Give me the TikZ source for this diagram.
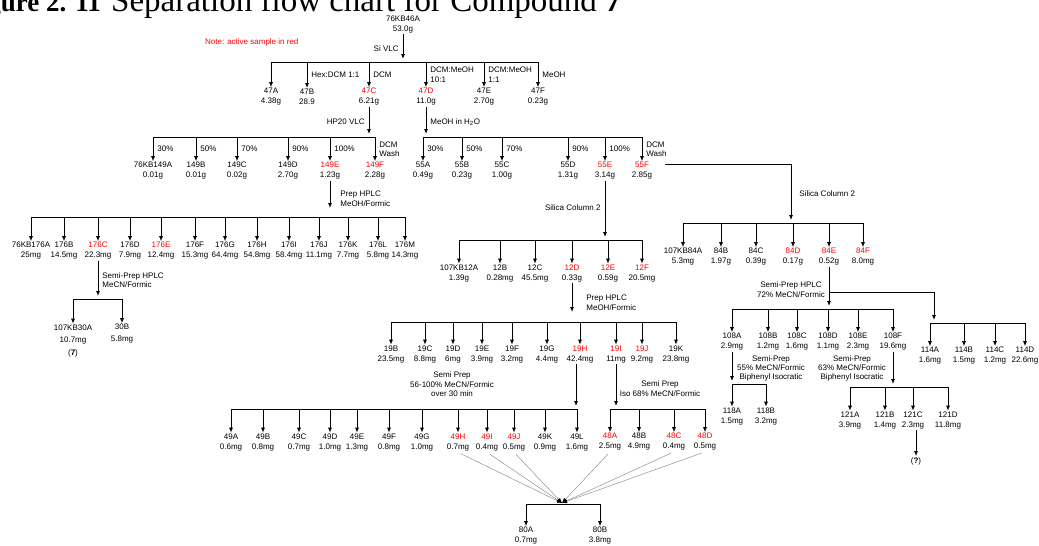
\documentclass[tikz,border=0pt]{standalone}
\usepackage{fontspec}
\setmainfont{Liberation Sans}
\newfontfamily\titlefont{Liberation Serif}
\usetikzlibrary{arrows.meta}

\begin{document}
\begin{tikzpicture}[x=1pt, y=-1pt,
    sample/.style={align=center, inner sep=1pt, font=\fontsize{8}{10}\selectfont},
    cond/.style={align=left, inner xsep=4pt, inner ysep=1pt, font=\fontsize{8}{9.5}\selectfont},
    bar/.style={line width=0.8pt},
    drop/.style={line width=0.8pt, -{Latex[length=5pt, width=4pt]}},
    feed/.style={drop, shorten >=3pt},
    pool/.style={gray, line width=0.4pt, -{Latex[length=5pt, width=4pt, color=black]}, shorten <=3pt}]
    \useasboundingbox (0,0) rectangle (1039,546);
    \clip (0,0) rectangle (1039,546);

    \node [anchor=base east, inner sep=0, font=\titlefont\bfseries\fontsize{27}{27}\selectfont] (titlenum) at (101,11) {Figure 2. 11};
    \node [anchor=base west, inner sep=0, font=\titlefont\fontsize{33}{33}\selectfont] (title) at (111,11) {Separation flow chart for Compound \textbf{7}};
    \node [cond, anchor=west, text=red] (note) at (201,42) {Note: active sample in red};

    % Si VLC
    \node [sample] (s76KB46A) at (403,24.5) {76KB46A\\53.0g};
    \coordinate (b47) at (403,62);
    \foreach \x/\id/\amt/\col/\lab in {271/47A/4.38g/black/{}, 307/47B/28.9/black/{Hex:DCM 1:1}, 369/47C/6.21g/red/DCM, 426/47D/11.0g/red/{DCM:MeOH\\10:1}, 484/47E/2.70g/black/{DCM:MeOH\\1:1}, 538/47F/0.23g/black/MeOH} {
        \node [sample] (s\id) at (\x,97) {\textcolor{\col}{\id}\\\amt};
        \draw [drop] (s\id |- b47) -- node [cond, right] (l\id) {\lab} (s\id);
    }
    \draw [bar] (s47A |- b47) -- (s47F |- b47);
    \draw [feed] (s76KB46A) -- node [cond, left] (lsivlc) {Si VLC} (b47);

    % HP20 VLC
    \coordinate (b149) at (369,137);
    \foreach \x/\id/\amt/\col/\lab in {153/76KB149A/0.01g/black/30\%, 196/149B/0.01g/black/50\%, 237/149C/0.02g/black/70\%, 288/149D/2.70g/black/90\%, 330/149E/1.23g/red/100\%, 375/149F/2.28g/red/{DCM\\Wash}} {
        \node [sample] (s\id) at (\x,171) {\textcolor{\col}{\id}\\\amt};
        \draw [drop] (s\id |- b149) -- node [cond, right] (l\id) {\lab} (s\id);
    }
    \draw [bar] (s76KB149A |- b149) -- (s149F |- b149);
    \draw [feed] (s47C) -- node [cond, left] (lhp20) {HP20 VLC} (s47C |- b149);

    % MeOH in water
    \coordinate (b55) at (426,137);
    \foreach \x/\id/\amt/\col/\lab in {423/55A/0.49g/black/30\%, 462/55B/0.23g/black/50\%, 502/55C/1.00g/black/70\%, 568/55D/1.31g/black/90\%, 605/55E/3.14g/red/100\%, 642/55F/2.85g/red/{DCM\\Wash}} {
        \node [sample] (s\id) at (\x,171) {\textcolor{\col}{\id}\\\amt};
        \draw [drop] (s\id |- b55) -- node [cond, right] (l\id) {\lab} (s\id);
    }
    \draw [bar] (s55A |- b55) -- (s55F |- b55);
    \draw [feed] (s47D) -- node [cond, right] (lmeoh) {MeOH in H\textsubscript{2}O} (s47D |- b55);

    % Prep HPLC 149E
    \coordinate (b176) at (330,217);
    \foreach \x/\id/\amt/\col in {31/76KB176A/25mg/black, 64/176B/14.5mg/black, 98/176C/22.3mg/red, 130/176D/7.9mg/black, 161/176E/12.4mg/red, 195/176F/15.3mg/black, 225/176G/64.4mg/black, 257/176H/54.8mg/black, 289/176I/58.4mg/black, 319/176J/11.1mg/black, 348/176K/7.7mg/black, 378/176L/5.8mg/black, 405/176M/14.3mg/black} {
        \node [sample] (s\id) at (\x,251) {\textcolor{\col}{\id}\\\amt};
        \draw [drop] (s\id |- b176) -- (s\id);
    }
    \draw [bar] (s76KB176A |- b176) -- (s176M |- b176);
    \draw [feed, shorten >=9pt] (s149E) -- node [cond, right, xshift=6pt] (lprep1) {Prep HPLC\\MeOH/Formic} (s149E |- b176);

    % Semi-Prep 176C
    \coordinate (b30) at (98,299);
    \node [sample, font=\fontsize{8}{12.5}\selectfont] (s107KB30A) at (73,341) {107KB30A\\10.7mg\\(\textbf{7})};
    \node [sample, font=\fontsize{8}{12}\selectfont] (s30B) at (122,334) {30B\\5.8mg};
    \draw [bar] (s107KB30A |- b30) -- (s30B |- b30);
    \draw [drop] (s107KB30A |- b30) -- (s107KB30A);
    \draw [drop] (s30B |- b30) -- (s30B);
    \draw [feed] (s176C) -- node [cond, right] (lsemi1) {Semi-Prep HPLC\\MeCN/Formic} (s176C |- b30);

    % Silica Column 2, 55E
    \coordinate (b12) at (605,240);
    \foreach \x/\id/\amt/\col in {459/107KB12A/1.39g/black, 500/12B/0.28mg/black, 535/12C/45.5mg/black, 572/12D/0.33g/red, 608/12E/0.59g/red, 642/12F/20.5mg/red} {
        \node [sample] (s\id) at (\x,273.5) {\textcolor{\col}{\id}\\\amt};
        \draw [drop] (s\id |- b12) -- (s\id);
    }
    \draw [bar] (s107KB12A |- b12) -- (s12F |- b12);
    \draw [feed] (s55E) -- node [cond, left, pos=0.45] (lsil1) {Silica Column 2} (s55E |- b12);

    % Silica Column 2, 55F
    \coordinate (b84) at (791,223);
    \foreach \x/\id/\amt/\col in {683/107KB84A/5.3mg/black, 721/84B/1.97g/black, 756/84C/0.39g/black, 793/84D/0.17g/red, 829/84E/0.52g/red, 863/84F/8.0mg/red} {
        \node [sample] (s\id) at (\x,257) {\textcolor{\col}{\id}\\\amt};
        \draw [drop] (s\id |- b84) -- (s\id);
    }
    \draw [bar] (s107KB84A |- b84) -- (s84F |- b84);
    \draw [feed] (s55F.east) ++(12,-7) -| node [cond, right, pos=0.75, xshift=4pt] (lsil2) {Silica Column 2} (b84);

    % Prep HPLC 12D
    \coordinate (b19) at (572,322);
    \foreach \x/\id/\amt/\col in {391/19B/23.5mg/black, 425/19C/8.8mg/black, 453/19D/6mg/black, 482/19E/3.9mg/black, 512/19F/3.2mg/black, 547/19G/4.4mg/black, 580/19H/42.4mg/red, 616/19I/11mg/red, 642/19J/9.2mg/red, 676/19K/23.8mg/black} {
        \node [sample] (s\id) at (\x,354.5) {\textcolor{\col}{\id}\\\amt};
        \draw [drop] (s\id |- b19) -- (s\id);
    }
    \draw [bar] (s19B |- b19) -- (s19K |- b19);
    \draw [feed, shorten >=10pt] (s12D) -- node [cond, right, xshift=10pt] (lprep2) {Prep HPLC\\MeOH/Formic} (s12D |- b19);

    \node [sample, font=\fontsize{8}{9.5}\selectfont] (lsemi2) at (452,384.5) {Semi Prep\\56-100\% MeCN/Formic\\over 30 min};
    \node [sample, font=\fontsize{8}{9.5}\selectfont] (lsemi3) at (660,388.5) {Semi Prep\\Iso 68\% MeCN/Formic};

    % Semi Prep 19H
    \coordinate (b49) at (576,409);
    \foreach \x/\id/\amt/\col in {231/49A/0.6mg/black, 263/49B/0.8mg/black, 299/49C/0.7mg/black, 330/49D/1.0mg/black, 357/49E/1.3mg/black, 389/49F/0.8mg/black, 422/49G/1.0mg/black, 458/49H/0.7mg/red, 487/49I/0.4mg/red, 514/49J/0.5mg/red, 545/49K/0.9mg/black, 577/49L/1.6mg/black} {
        \node [sample] (s\id) at (\x,442.5) {\textcolor{\col}{\id}\\\amt};
        \draw [drop] (s\id |- b49) -- (s\id);
    }
    \draw [bar] (s49A |- b49) -- (s49L |- b49);
    \draw [feed] ([xshift=-4pt]s19H.south) -- ([xshift=-4pt]s19H.south |- b49);

    % Semi Prep 19I
    \coordinate (b48) at (616,409);
    \foreach \x/\id/\amt/\col in {610/48A/2.5mg/red, 639/48B/4.9mg/black, 674/48C/0.4mg/red, 705/48D/0.5mg/red} {
        \node [sample] (s\id) at (\x,442) {\textcolor{\col}{\id}\\\amt};
        \draw [drop] (s\id |- b48) -- (s\id);
    }
    \draw [bar] (s48A |- b48) -- (s48D |- b48);
    \draw [feed] (s19I) -- (s19I |- b48);

    % pooled actives
    \coordinate (b80) at (562,504);
    \foreach \x/\id/\amt in {526/80A/0.7mg, 600/80B/3.8mg} {
        \node [sample] (s\id) at (\x,536) {\id\\\amt};
        \draw [drop] (s\id |- b80) -- (s\id);
    }
    \draw [bar] (s80A |- b80) -- (s80B |- b80);
    \foreach \id in {49H,49I,49J,48A,48C,48D}
        \draw [pool] (s\id.south) -- ([yshift=1pt]b80);

    % Semi-Prep HPLC 84E
    \coordinate (b108) at (829,309);
    \foreach \x/\id/\amt in {732/108A/2.9mg, 768/108B/1.2mg, 797/108C/1.6mg, 828/108D/1.1mg, 858/108E/2.3mg, 893/108F/19.6mg} {
        \node [sample] (s\id) at (\x,342) {\id\\\amt};
        \draw [drop] (s\id |- b108) -- (s\id);
    }
    \draw [bar] (s108A |- b108) -- (s108F |- b108);
    \draw [feed] (s84E) -- (s84E |- b108);
    \node [sample, anchor=east] (lsemi4) at (826,289.5) {Semi-Prep HPLC\\72\% MeCN/Formic};

    \coordinate (b114) at (934,323);
    \coordinate (j114) at (829,292);
    \foreach \x/\id/\amt in {930/114A/1.6mg, 964/114B/1.5mg, 995/114C/1.2mg, 1025/114D/22.6mg} {
        \node [sample] (s\id) at (\x,356) {\id\\\amt};
        \draw [drop] (s\id |- b114) -- (s\id);
    }
    \draw [bar] (s114A |- b114) -- (s114D |- b114);
    \draw [feed] (s84E |- j114) -| (b114);

    % Semi-Prep 108A
    \coordinate (b118) at (733,384);
    \foreach \x/\id/\amt in {732/118A/1.5mg, 766/118B/3.2mg} {
        \node [sample] (s\id) at (\x,416.5) {\id\\\amt};
        \draw [drop] (s\id |- b118) -- (s\id);
    }
    \draw [bar] (s118A |- b118) -- (s118B |- b118);
    \draw [feed] (s108A) -- (s108A |- b118);
    \node [sample, font=\fontsize{8}{9}\selectfont] (lsemi5) at (771,368) {Semi-Prep\\55\% MeCN/Formic\\Biphenyl Isocratic};

    % Semi-Prep 108F
    \coordinate (b121) at (893,387);
    \foreach \x/\id/\amt in {850/121A/3.9mg, 885/121B/1.4mg, 913/121C/2.3mg, 948/121D/11.8mg} {
        \node [sample] (s\id) at (\x,420.5) {\id\\\amt};
        \draw [drop] (s\id |- b121) -- (s\id);
    }
    \draw [bar] (s121A |- b121) -- (s121D |- b121);
    \draw [feed] (s108F) -- (s108F |- b121);
    \node [sample, font=\fontsize{8}{9}\selectfont] (lsemi6) at (852,368.5) {Semi-Prep\\63\% MeCN/Formic\\Biphenyl Isocratic};
    \node [sample] (sq) at (916,461) {(\textbf{?})};
    \draw [drop] (sq |- s121C.south) -- (sq);
\end{tikzpicture}
\end{document}
